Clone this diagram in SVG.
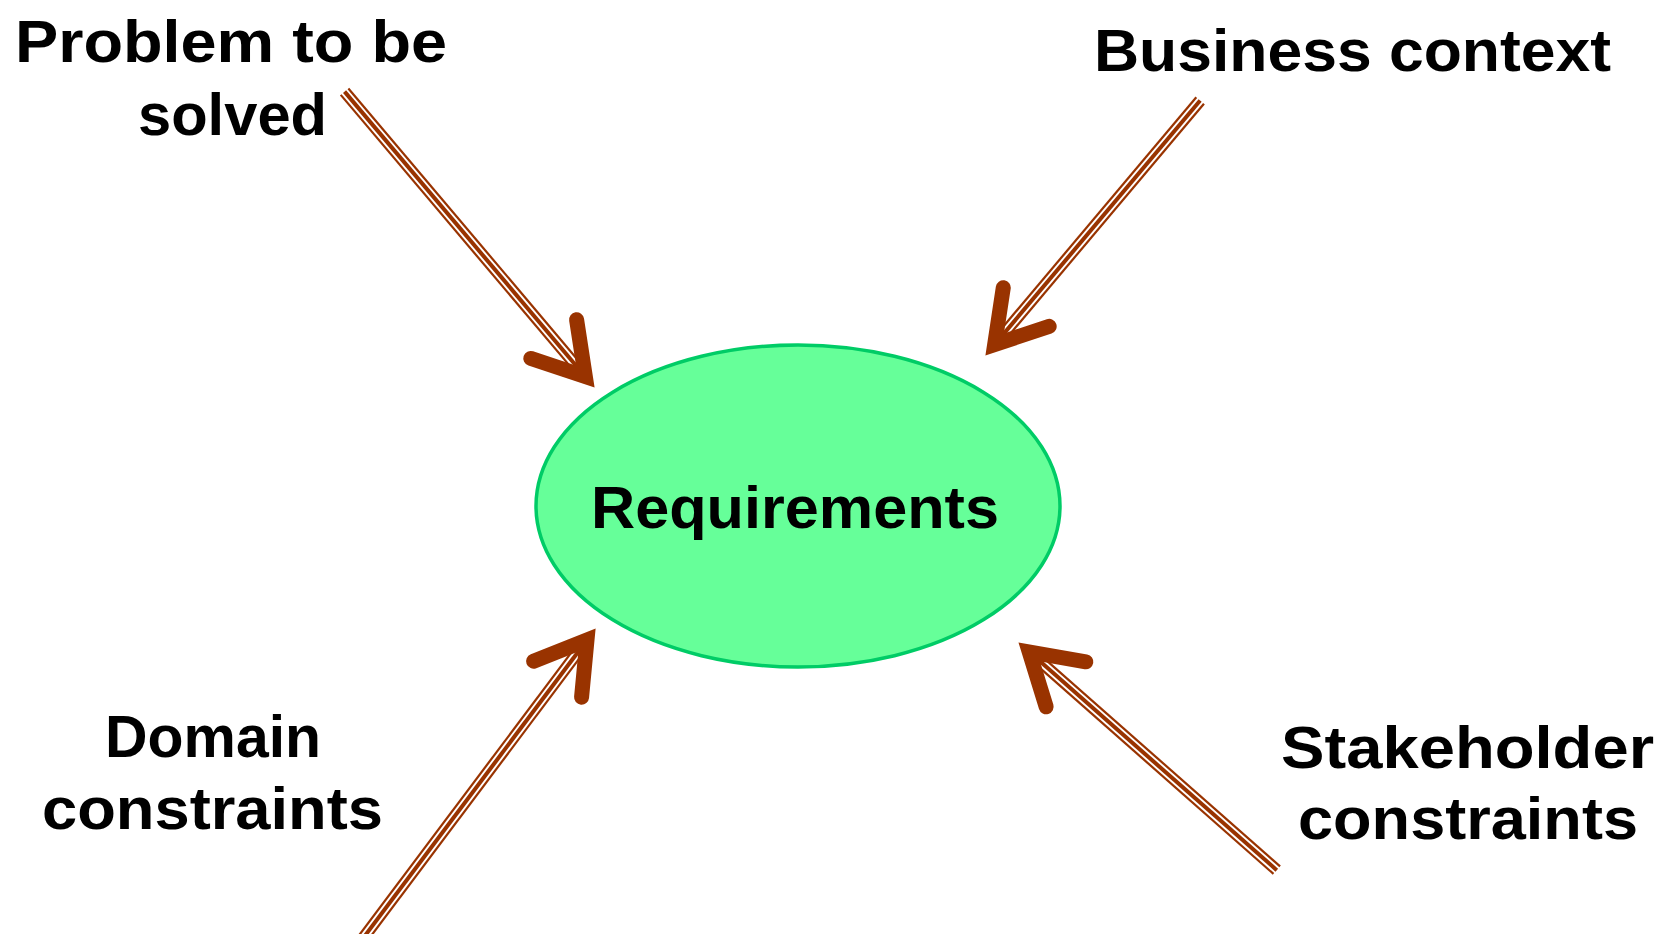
<svg xmlns="http://www.w3.org/2000/svg" xmlns:xlink="http://www.w3.org/1999/xlink" width="1673" height="934" viewBox="0 0 1673 934">
  <style>
    .lbl { font-family: "Liberation Sans", "Open Sans", sans-serif; font-weight: bold; font-size: 60px; fill: #000000; }
    .thin { stroke: #993300; stroke-width: 2.2; fill: none; }
    .thick { stroke: #993300; stroke-width: 4; fill: none; }
    .head { stroke: #993300; stroke-width: 15; stroke-linecap: round; stroke-linejoin: miter; stroke-miterlimit: 10; fill: none; }
  </style>
  <defs>
    <path id="arrowhead" class="head" d="M-64,30 L-15,0 L-64,-30"/>
  </defs>
  <rect width="1673" height="934" fill="#ffffff"/>

  <g id="connectors">
    <g id="arrow-problem" transform="translate(595,388) rotate(49.8)">
      <path class="thin" d="M-388,-5 H-24"/>
      <path class="thick" d="M-388,0 H-24"/>
      <path class="thin" d="M-388,5 H-24"/>
      <use xlink:href="#arrowhead"/>
    </g>
    <g id="arrow-business" transform="translate(985,356) rotate(130.1)">
      <path class="thin" d="M-334,-5 H-24"/>
      <path class="thick" d="M-334,0 H-24"/>
      <path class="thin" d="M-334,5 H-24"/>
      <use xlink:href="#arrowhead"/>
    </g>
    <g id="arrow-domain" transform="translate(596,628) rotate(-53.1)">
      <path class="thin" d="M-400,-5 H-24"/>
      <path class="thick" d="M-400,0 H-24"/>
      <path class="thin" d="M-400,5 H-24"/>
      <use xlink:href="#arrowhead"/>
    </g>
    <g id="arrow-stakeholder" transform="translate(1018,642) rotate(-138.6)">
      <path class="thin" d="M-345,-5 H-24"/>
      <path class="thick" d="M-345,0 H-24"/>
      <path class="thin" d="M-345,5 H-24"/>
      <use xlink:href="#arrowhead"/>
    </g>
  </g>

  <g id="node-requirements">
    <ellipse cx="798" cy="506" rx="262" ry="161" fill="#66FF99" stroke="#00CC66" stroke-width="3.5"/>
    <text class="lbl" x="591" y="528" textLength="408" lengthAdjust="spacingAndGlyphs">Requirements</text>
  </g>

  <g id="node-problem">
    <text class="lbl" x="15" y="62" textLength="432" lengthAdjust="spacingAndGlyphs">Problem to be</text>
    <text class="lbl" x="138" y="135" textLength="189" lengthAdjust="spacingAndGlyphs">solved</text>
  </g>

  <g id="node-business">
    <text class="lbl" x="1094" y="71" textLength="517" lengthAdjust="spacingAndGlyphs">Business context</text>
  </g>

  <g id="node-domain">
    <text class="lbl" x="105" y="757" textLength="216" lengthAdjust="spacingAndGlyphs">Domain</text>
    <text class="lbl" x="42" y="829" textLength="341" lengthAdjust="spacingAndGlyphs">constraints</text>
  </g>

  <g id="node-stakeholder">
    <text class="lbl" x="1281" y="768" textLength="373" lengthAdjust="spacingAndGlyphs">Stakeholder</text>
    <text class="lbl" x="1298" y="839" textLength="340" lengthAdjust="spacingAndGlyphs">constraints</text>
  </g>
</svg>
